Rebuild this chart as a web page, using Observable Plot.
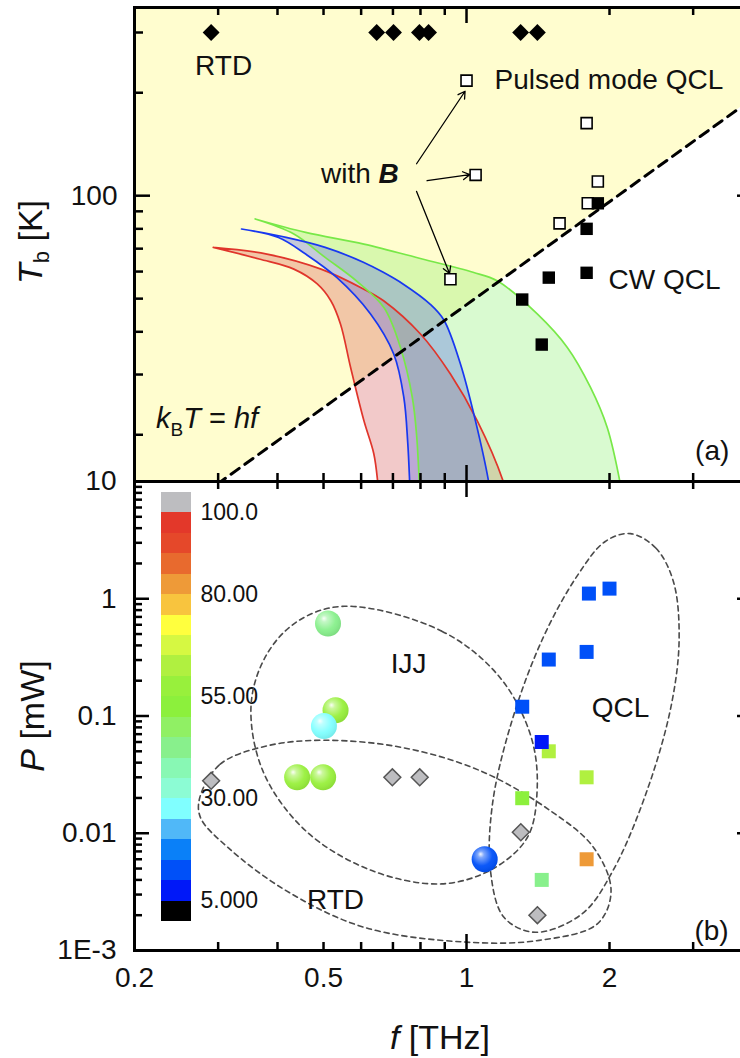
<!DOCTYPE html>
<html><head><meta charset="utf-8">
<script src="https://cdn.jsdelivr.net/npm/d3@7"></script>
<script src="https://cdn.jsdelivr.net/npm/@observablehq/plot@0.6"></script>
<style>
html,body{margin:0;padding:0;background:#fff;overflow:hidden;}
#wrap{position:relative;width:752px;height:1058px;overflow:hidden;font-family:"Liberation Sans",Arial,sans-serif;}
#wrap svg{position:absolute;left:0;top:0;}
</style></head>
<body>
<svg width="0" height="0" style="position:absolute">
<defs>
<radialGradient id="shine" cx="0.42" cy="0.38" r="0.62" fx="0.34" fy="0.3">
<stop offset="0" stop-color="#fff" stop-opacity="0.95"/>
<stop offset="0.2" stop-color="#fff" stop-opacity="0.5"/>
<stop offset="0.65" stop-color="#fff" stop-opacity="0.05"/>
<stop offset="1" stop-color="#000" stop-opacity="0.08"/>
</radialGradient></defs></svg>
<div id="wrap"></div>
<script>
// ---------------- data: panel (a) T_b vs f ----------------
const rtdTopF = [0.29, 0.647, 0.702, 0.796, 0.832, 1.30, 1.41];
const rtdTopT = [300, 300, 300, 300, 300, 300, 300];
const pulsedF = [1.00, 1.79, 1.045, 1.89, 1.80, 1.57, 0.925];
const pulsedT = [217, 163, 115, 110, 95, 83, 57];
const cwF = [1.89, 1.79, 1.49, 1.79, 1.31, 1.44];
const cwT = [95, 80, 57.6, 59.5, 49.7, 36.7];
const hfLine = [[0.2, 9.6], [4, 192]];           // k_B T = h f
const withBArrows = [[0.785, 124, 0.993, 202], [0.826, 110.6, 1.016, 115.2], [0.785, 102.9, 0.921, 59.2]];
const ijjRedUpper = [[0.293,70.6],[0.380,67.5],[0.494,61.0],[0.608,53.3],[0.669,49.3],[0.800,39.4],[0.925,30.1],[1.053,22.0],[1.195,14.6],[1.23,12.5]];
const ijjRedLower = [[0.293,70.6],[0.366,65.3],[0.433,61.0],[0.485,55.2],[0.518,49.3],[0.543,42.1],[0.570,31.5],[0.608,22.0],[0.638,17.6],[0.650,14.6],[0.655,12.5]];
const ijjBlueUpper = [[0.336,79.9],[0.417,75.5],[0.504,70.6],[0.608,63.8],[0.668,59.7],[0.735,55.2],[0.838,48.2],[0.896,43.3],[0.971,32.2],[1.044,22.0],[1.113,14.6],[1.13,12.5]];
const ijjBlueLower = [[0.336,79.9],[0.402,75.5],[0.4585,67.5],[0.533,57.7],[0.628,45.1],[0.703,34.4],[0.738,25.7],[0.752,19.0],[0.759,14.6],[0.762,12.5]];
const ijjGreenUpper = [[0.359,85.5],[0.4585,78.1],[0.608,72.2],[0.807,65.3],[1.032,59.7],[1.16,56.4],[1.409,45.1],[1.63,36.0],[1.824,27.5],[1.978,21.0],[2.103,14.6],[2.14,12.5]];
const ijjGreenLower = [[0.359,85.5],[0.433,77.3],[0.504,66.0],[0.586,56.4],[0.670,47.1],[0.726,36.0],[0.769,25.7],[0.785,20.0],[0.795,14.6],[0.798,12.5]];
const labelsAStart = [["Pulsed mode QCL", 1.145, 218], ["CW QCL", 1.991, 56.8]];
const labelsAMid = [["RTD", 0.308, 240], ["(a)", 3.29, 17.9]];

// ---------------- data: panel (b) P vs f ----------------
const ijjF = [0.511, 0.530, 0.501, 0.440, 0.499, 1.092];
const ijjP = [0.615, 0.112, 0.082, 0.030, 0.030, 0.0060];
const ijjTemp = [43, 57, 27, 57, 57, 12];
const rtdF = [0.290, 0.698, 0.797, 1.301, 1.41];
const rtdP = [0.028, 0.030, 0.030, 0.0102, 0.0020];
const rtdTemp = [300, 300, 300, 300, 300];
const qclF = [1.81, 2.00, 1.49, 1.79, 1.31, 1.49, 1.44, 1.79, 1.31, 1.79, 1.44];
const qclP = [1.107, 1.22, 0.303, 0.352, 0.120, 0.050, 0.060, 0.030, 0.0199, 0.0060, 0.0040];
const qclTemp = [12, 12, 12, 12, 12, 62, 7, 62, 52, 82, 42];
const ijjEllipse = [[0.5535,0.863],[0.887,0.529],[1.177,0.212],[1.369,0.0654],[1.408,0.0230],[1.343,0.0092],[1.134,0.00495],[0.887,0.0037],[0.632,0.0048],[0.4585,0.0105],[0.3726,0.034],[0.352,0.126],[0.3797,0.335],[0.4414,0.644]];
const rtdEllipse = [[0.2745,0.0202],[0.303,0.0388],[0.3797,0.0556],[0.504,0.0621],[0.735,0.0537],[1.071,0.034],[1.504,0.0155],[1.851,0.00757],[2.015,0.00324],[1.886,0.00169],[1.422,0.00122],[0.993,0.00118],[0.608,0.00158],[0.417,0.00324],[0.3145,0.00757],[0.2754,0.0136]];
const qclEllipse = [[2.214,3.59],[2.503,2.71],[2.725,1.41],[2.803,0.464],[2.701,0.126],[2.411,0.0245],[2.034,0.0048],[1.750,0.00205],[1.395,0.00143],[1.199,0.00192],[1.123,0.0048],[1.134,0.0177],[1.246,0.0906],[1.449,0.464],[1.717,1.607],[1.959,3.08]];
const labelsB = [["IJJ", 0.755, 0.28], ["QCL", 2.11, 0.118], ["RTD", 0.53, 0.00272], ["(b)", 3.28, 0.00148]];

// ---------------- colour bar ----------------
const cbBreaks = [5,10,15,20,25,30,35,40,45,50,55,60,65,70,75,80,85,90,95,100];
const cbColors = ["#000000","#0018F8","#0050F8","#0A80F8","#50B8F8","#80FFFF","#8CFCD4","#88F8B4","#88F08C","#90F064","#8CF03C","#98F03C","#B0F040","#D6F842","#FFFF3E","#F8C43E","#EE9A38","#E86A2E","#E5482A","#E3382A","#BDBDC0"];
const cbLevels = [0,5,10,15,20,25,30,35,40,45,50,55,60,65,70,75,80,85,90,95,100];
const cbTickVals = [5, 30, 55, 80, 100];
const cbTickText = ["5.000", "30.00", "55.00", "80.00", "100.0"];

// ---------------- ticks ----------------
const xMinor = [0.3,0.4,0.5,0.6,0.7,0.8,0.9,2,3];
const xMajor = [1];
const xLabelVals = [0.2, 0.5, 1, 2];
const xLabelText = ["0.2", "0.5", "1", "2"];
const tbMinor = [20,30,40,50,60,70,80,90,200,300];
const tbMajor = [100];
const tbLabelVals = [100];
const tbLabelText = ["100"];
const pMinor = [0.002,0.003,0.004,0.005,0.006,0.007,0.008,0.009,0.02,0.03,0.04,0.05,0.06,0.07,0.08,0.09,0.2,0.3,0.4,0.5,0.6,0.7,0.8,0.9,2,3,4,5,6,7,8,9];
const pMajor = [0.01, 0.1, 1];
const pLabelVals = [10, 1, 0.1, 0.01, 0.001];
const pLabelText = ["10", "1", "0.1", "0.01", "1E-3"];

// ---------------- layout ----------------
const FONT = '"Liberation Sans", Arial, Helvetica, sans-serif';
const W = 752, ML = 134;
const A = {top: 7, bottom: 481}, B = {top: 481, bottom: 950}, H = 1058;
const frameW = W - ML, hA = A.bottom - A.top, hB = B.bottom - B.top;
const wrap = document.getElementById("wrap");
function place(svg) {
  Object.assign(svg.style, {position: "absolute", left: "0px", top: "0px", maxWidth: "none",
    background: "transparent", overflow: "visible", fontFamily: FONT, fontSize: "28px"});
  wrap.appendChild(svg);
}
const xy = {x: d => d[0], y: d => d[1]};
const tk = {stroke: "#000", strokeWidth: 2.5};
function ticksX(vals, len, h) {
  return [Plot.tickX(vals, {x: d => d, insetTop: h - len, ...tk}),
          Plot.tickX(vals, {x: d => d, insetBottom: h - len, ...tk})];
}
function ticksY(vals, lenL, lenR) {
  return [Plot.tickY(vals, {y: d => d, insetRight: frameW - lenL, ...tk}),
          Plot.tickY(vals, {y: d => d, insetLeft: frameW - lenR, ...tk})];
}
const colorOpts = {type: "threshold", domain: cbBreaks, range: cbColors};

const bands = [
  {poly: ijjRedUpper.concat(ijjRedLower.slice().reverse()), fill: "#D44B4B", op: 0.3, stroke: "#E0352B"},
  {poly: ijjGreenUpper.concat(ijjGreenLower.slice().reverse()), fill: "#80EE62", op: 0.3, stroke: "#78E848"},
  {poly: ijjBlueUpper.concat(ijjBlueLower.slice().reverse()), fill: "#5065EC", op: 0.33, stroke: "#1838F0"}
];

// ---------------- panel (a) ----------------
const tbFmt = new Map(tbLabelVals.map((v, i) => [v, tbLabelText[i]]));
const plotA = Plot.plot({
  width: W, height: A.bottom + 9,
  marginLeft: ML, marginRight: 0, marginTop: A.top, marginBottom: 9,
  x: {type: "log", domain: [0.2, 4], axis: null},
  y: {type: "log", domain: [14.6, 355], axis: null},
  marks: [
    Plot.areaY(hfLine, {x: d => d[0], y1: d => d[1], y2: 355, fill: "#FFFDCF", clip: true}),
    ...bands.map(b => Plot.line(b.poly, {...xy, fill: b.fill, fillOpacity: b.op, stroke: "none", curve: "catmull-rom", clip: true})),
    ...bands.map(b => Plot.line(b.poly, {...xy, stroke: b.stroke, strokeWidth: 1.7, curve: "catmull-rom", clip: true})),
    Plot.line(hfLine, {...xy, stroke: "#000", strokeWidth: 3, strokeDasharray: "10,7", clip: true}),
    Plot.arrow(withBArrows, {x1: d => d[0], y1: d => d[1], x2: d => d[2], y2: d => d[3], stroke: "#000", strokeWidth: 1.3, headLength: 9}),
    Plot.dot(rtdTopF, {x: d => d, y: (d, i) => rtdTopT[i], symbol: "diamond2", r: 7.6, fill: "#000"}),
    Plot.dot(pulsedF, {x: d => d, y: (d, i) => pulsedT[i], symbol: "square", r: 6.2, fill: "#fff", stroke: "#000", strokeWidth: 1.6}),
    Plot.dot(cwF, {x: d => d, y: (d, i) => cwT[i], symbol: "square", r: 7, fill: "#000"}),
    Plot.text(labelsAStart, {x: d => d[1], y: d => d[2], text: d => d[0], textAnchor: "start", fontSize: 28, fill: "#111"}),
    Plot.text(labelsAMid, {x: d => d[1], y: d => d[2], text: d => d[0], fontSize: 28, fill: "#111"}),
    ...ticksX(xMinor, 8, hA), ...ticksX(xMajor, 16, hA),
    ...ticksY(tbMinor, 9, 8), ...ticksY(tbMajor, 16, 15),
    Plot.axisY({ticks: tbLabelVals, tickFormat: d => tbFmt.get(d), tickSize: 0, tickPadding: 17, label: null, fontSize: 28, fill: "#111"}),
    Plot.frame({stroke: "#000", strokeWidth: 3})
  ]
});
place(plotA);

// ---------------- colour bar ----------------
const cb = Plot.plot({
  width: 300, height: H, margin: 0,
  x: {domain: [0, 1], range: [161, 191], axis: null},
  y: {domain: [0, 105], range: [921, 492], axis: null},
  color: colorOpts,
  marks: [
    Plot.rect(cbLevels, {x1: 0, x2: 1, y1: d => d, y2: d => d + 5, fill: d => d + 2.5, shapeRendering: "crispEdges"}),
    Plot.text(cbTickVals, {x: 1, y: d => d, text: (d, i) => cbTickText[i], dx: 9, textAnchor: "start", fontSize: 23, fill: "#111"})
  ]
});
place(cb);

// ---------------- panel (b) ----------------
const pFmt = new Map(pLabelVals.map((v, i) => [v, pLabelText[i]]));
const xFmt = new Map(xLabelVals.map((v, i) => [v, xLabelText[i]]));
const ell = {...xy, curve: "catmull-rom-closed", stroke: "#4a4a4a", strokeWidth: 1.6, strokeDasharray: "5,4"};
const plotB = Plot.plot({
  width: W, height: H,
  marginLeft: ML, marginRight: 0, marginTop: B.top, marginBottom: H - B.bottom,
  x: {type: "log", domain: [0.2, 4], axis: null},
  y: {type: "log", domain: [0.001, 10], axis: null},
  color: colorOpts,
  marks: [
    Plot.line(ijjEllipse, ell),
    Plot.line(rtdEllipse, ell),
    Plot.line(qclEllipse, ell),
    Plot.dot(rtdF, {x: d => d, y: (d, i) => rtdP[i], symbol: "diamond2", r: 7.6, fill: (d, i) => rtdTemp[i], stroke: "#555", strokeWidth: 1.5}),
    Plot.dot(qclF, {x: d => d, y: (d, i) => qclP[i], symbol: "square", r: 7.9, fill: (d, i) => qclTemp[i]}),
    ...ijjF.flatMap((f, i) => [
      Plot.dot([i], {x: j => ijjF[j], y: j => ijjP[j], r: 13, fill: j => ijjTemp[j]}),
      Plot.dot([i], {x: j => ijjF[j], y: j => ijjP[j], r: 13, fill: "url(#shine)"})
    ]),
    Plot.text(labelsB, {x: d => d[1], y: d => d[2], text: d => d[0], fontSize: 28, fill: "#111"}),
    ...ticksX(xMinor, 8, hB), ...ticksX(xMajor, 16, hB),
    ...ticksY(pMinor, 8, 8), ...ticksY(pMajor, 15, 15),
    Plot.axisY({ticks: pLabelVals, tickFormat: d => pFmt.get(d), tickSize: 0, tickPadding: 18, label: null, fontSize: 28, fill: "#111"}),
    Plot.axisX({ticks: xLabelVals, tickFormat: d => xFmt.get(d), tickSize: 0, tickPadding: 17, label: null, fontSize: 28, fill: "#111"}),
    Plot.frame({stroke: "#000", strokeWidth: 3})
  ]
});
place(plotB);

// ---------------- rich-text titles & annotations ----------------
const ns = "http://www.w3.org/2000/svg";
const over = document.createElementNS(ns, "svg");
over.setAttribute("width", W); over.setAttribute("height", H);
over.setAttribute("style", "position:absolute;left:0;top:0;font-family:" + FONT.replace(/"/g, "'") + ";fill:#111");
over.innerHTML = `
<text transform="translate(42,242) rotate(-90)" text-anchor="middle" font-size="34"><tspan font-style="italic">T</tspan><tspan font-size="22" dy="7">b</tspan><tspan dy="-7"> [K]</tspan></text>
<text transform="translate(44,716) rotate(-90)" text-anchor="middle" font-size="34"><tspan font-style="italic">P</tspan> [mW]</text>
<text x="440" y="1049" text-anchor="middle" font-size="34"><tspan font-style="italic">f</tspan> [THz]</text>
<text x="156" y="428" font-size="29"><tspan font-style="italic">k</tspan><tspan font-size="19" dy="8">B</tspan><tspan dy="-8" font-style="italic">T</tspan> = <tspan font-style="italic">hf</tspan></text>
<text x="321" y="183" font-size="28">with <tspan font-style="italic" font-weight="bold">B</tspan></text>
`;
wrap.appendChild(over);
</script></body></html>
